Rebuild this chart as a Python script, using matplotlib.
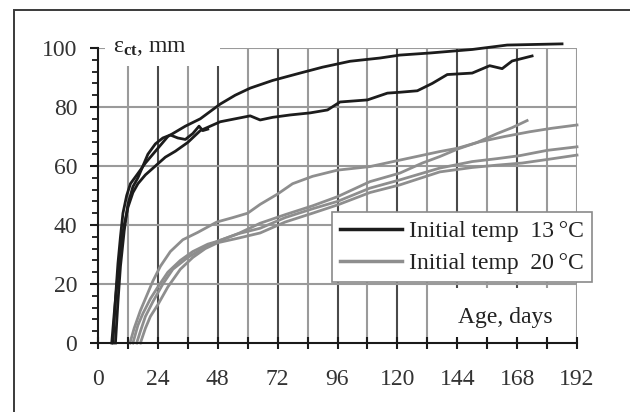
import matplotlib
matplotlib.use('Agg')
import matplotlib.pyplot as plt
from matplotlib.patches import Rectangle
from matplotlib.ticker import MultipleLocator

plt.rcParams['font.family'] = ['Liberation Serif', 'DejaVu Serif']
plt.rcParams['mathtext.fontset'] = 'custom'
plt.rcParams['mathtext.rm'] = 'Liberation Serif'
plt.rcParams['mathtext.bf'] = 'Liberation Serif:bold'
plt.rcParams['mathtext.it'] = 'Liberation Serif:italic'

# 13 C curves (age in days, strain)
black_a_x = [6, 7, 8, 9, 10, 11.5, 13, 15.6, 19, 23, 28, 35, 41, 49, 55, 61, 70, 81, 90,
             101, 113, 121, 133, 150, 164, 175, 186]
black_a_y = [0, 15, 27, 36, 44, 50, 54, 57, 61, 65, 70, 73.5, 76, 81, 84, 86.4, 89, 91.5, 93.5,
             95.5, 96.6, 97.6, 98.3, 99.5, 101, 101.2, 101.4]
black_b_x = [5.5, 6.5, 7.6, 9, 10.5, 12, 14, 16, 19, 23, 27, 31, 36, 41, 45, 49, 55, 61, 63,
             65, 70, 77, 85, 92, 97, 108, 116, 121, 128, 134, 140, 150, 157, 162, 166, 174]
black_b_y = [0, 10, 20, 32, 40, 46, 51, 54, 57, 60, 63, 65, 68, 72, 73.5, 75, 76, 77, 76.3,
             75.6, 76.5, 77.3, 78, 79, 81.7, 82.4, 84.7, 85, 85.5, 88, 91, 91.5, 94, 93, 95.6, 97.3]
black_c_x = [7, 8, 9, 10.5, 12, 14, 16, 18, 20, 23, 26, 29, 32, 35, 38, 40.5, 42, 44]
black_c_y = [0, 14, 26, 38, 47, 53, 56, 60, 64, 67.5, 69.5, 70.5, 69.5, 69, 71, 73.5, 72, 72.5]

# 20 C curves
gray_1_x = [12.8, 14.5, 17, 20, 22, 25, 29, 34, 40, 47.6, 54, 60, 65, 72, 78, 86, 96, 109,
            121, 137, 144, 153, 163, 173, 182, 192]
gray_1_y = [0, 5, 11, 17, 21, 26, 31, 35, 37.5, 41, 42.5, 44, 47, 50.5, 54, 56.5, 58.6, 59.8,
            62, 64.9, 66, 68.2, 70, 71.6, 72.8, 73.9]
gray_2_x = [14, 16, 18, 21, 24, 28, 33, 38, 44, 48, 56, 65, 75, 86, 96, 109, 121, 130, 137,
            144, 152, 160, 166, 172]
gray_2_y = [0, 6, 10, 15, 19, 24, 28, 31, 33.5, 34.5, 37, 40.6, 43.5, 46.5, 49.6, 54.7, 57.6,
            61, 63.2, 65.7, 68, 71, 73, 75.4]
gray_3_x = [15.5, 17, 19, 22, 26, 30, 36, 42, 48, 56, 65, 75, 86, 96, 109, 121, 137, 150,
            160, 169, 180, 192]
gray_3_y = [0, 4, 9, 14, 20, 25, 29, 32, 34.5, 37, 38.9, 42.5, 45.5, 48, 52.5, 55.3, 59.3,
            61.5, 62.5, 63.5, 65.3, 66.5]
gray_4_x = [17, 19, 21, 24, 28, 33, 38, 43, 48, 56, 65, 75, 86, 96, 109, 121, 137, 150, 160,
            170, 180, 192]
gray_4_y = [0, 5, 9, 13, 19, 25, 29, 32, 34, 35.5, 37.3, 41, 44, 46.8, 51, 53.6, 58, 59.5,
            60.3, 61, 62.2, 63.7]

x_ticks = [0, 24, 48, 72, 96, 120, 144, 168, 192]
y_ticks = [0, 20, 40, 60, 80, 100]

fig = plt.figure(figsize=(6.3, 4.12), dpi=100)
ax = fig.add_axes([98 / 630, 1 - 343 / 412, 479 / 630, 295 / 412])

# outer frame
fig.patches.append(Rectangle((14 / 630, -0.1), 2, 1.1 - 10 / 412, transform=fig.transFigure,
                             fill=False, edgecolor='#3a3a3a', linewidth=1.4))

ax.set_xlim(0, 192)
ax.set_ylim(0, 100)
ax.set_xticks(x_ticks)
ax.set_yticks(y_ticks)
ax.xaxis.set_minor_locator(MultipleLocator(12))
ax.yaxis.set_minor_locator(MultipleLocator(4))

# grid: dark every 24 days, light every 12, light horizontals
for d in range(12, 193, 12):
    c = '#4a4a4a' if d % 24 == 0 and d != 192 else '#9a9a9a'
    ax.axvline(d, color=c, linewidth=1.5, zorder=0.5)
for v in range(20, 101, 20):
    ax.axhline(v, color='#9a9a9a', linewidth=1.5, zorder=0.5)

# white patches behind the axis labels
ax.add_patch(Rectangle((3, 94), 46, 10, facecolor='white', edgecolor='none',
                       zorder=1, clip_on=False))
ax.add_patch(Rectangle((141, 1.5), 50.3, 17, facecolor='white', edgecolor='none',
                       zorder=1))

ax.text(6, 100, r'$\mathrm{ε}_{\mathbf{ct}}$, mm', fontsize=17, ha='left', va='center',
        color='#222222', zorder=3)
ax.text(144.5, 8.8, 'Age, days', fontsize=17, ha='left', va='center', color='#222222',
        zorder=3)

for xs, ys in [(black_a_x, black_a_y), (black_b_x, black_b_y), (black_c_x, black_c_y)]:
    ax.plot(xs, ys, color='#1c1c1c', linewidth=2.0, zorder=3, clip_on=False)
for xs, ys in [(gray_1_x, gray_1_y), (gray_2_x, gray_2_y), (gray_3_x, gray_3_y),
               (gray_4_x, gray_4_y)]:
    ax.plot(xs, ys, color='#8e8e8e', linewidth=2.0, zorder=2.5, clip_on=False)

h1, = ax.plot([], [], color='#1c1c1c', linewidth=2.5)
h2, = ax.plot([], [], color='#8e8e8e', linewidth=2.5)
leg = ax.legend([h1, h2], ['Initial temp  13\u2009°C', 'Initial temp  20\u2009°C'],
                loc='upper left', bbox_to_anchor=(332 / 630, 1 - 212 / 412),
                bbox_transform=fig.transFigure, fontsize=17, frameon=True, fancybox=False,
                framealpha=1, edgecolor='#8a8a8a', handlelength=2.6, handletextpad=0.3,
                borderpad=0.35, labelspacing=0.45, borderaxespad=0)
leg.get_frame().set_linewidth(1.2)
leg.set_zorder(4)
for t in leg.get_texts():
    t.set_color('#222222')

for s in ['top', 'right']:
    ax.spines[s].set_visible(False)
for s in ['left', 'bottom']:
    ax.spines[s].set_color('#1a1a1a')
    ax.spines[s].set_linewidth(1.5)
    ax.spines[s].set_zorder(3)

ax.tick_params(axis='x', which='both', direction='inout', length=9, width=1.5,
               color='#1a1a1a', pad=14, labelsize=17, labelcolor='#333333')
ax.tick_params(axis='y', which='major', direction='out', length=6, width=1.5,
               color='#1a1a1a', pad=9, labelsize=17, labelcolor='#333333')
ax.tick_params(axis='y', which='minor', direction='out', length=4.5, width=1.3,
               color='#1a1a1a')

fig.savefig('out.png', dpi=100)
